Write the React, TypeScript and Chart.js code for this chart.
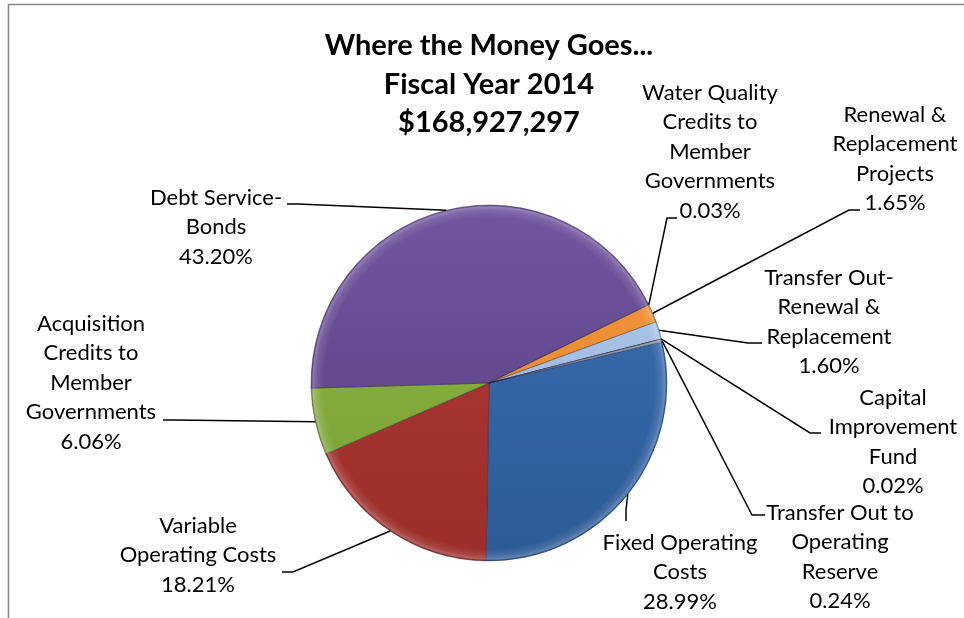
import React, { useEffect, useRef } from "react";
import { Chart, registerables } from "chart.js";

Chart.register(...registerables);

// ---------- data ----------
const categories = [
  "Fixed Operating Costs",
  "Variable Operating Costs",
  "Acquisition Credits to Member Governments",
  "Debt Service-Bonds",
  "Water Quality Credits to Member Governments",
  "Renewal & Replacement Projects",
  "Transfer Out-Renewal & Replacement",
  "Capital Improvement Fund",
  "Transfer Out to Operating Reserve",
];
const percentages = [28.99, 18.21, 6.06, 43.2, 0.03, 1.65, 1.6, 0.02, 0.24];
const labelLines = [
  ["Fixed Operating", "Costs"],
  ["Variable", "Operating Costs"],
  ["Acquisition", "Credits to", "Member", "Governments"],
  ["Debt Service-", "Bonds"],
  ["Water Quality", "Credits to", "Member", "Governments"],
  ["Renewal &", "Replacement", "Projects"],
  ["Transfer Out-", "Renewal &", "Replacement"],
  ["Capital", "Improvement", "Fund"],
  ["Transfer Out to", "Operating", "Reserve"],
];
const titleLines = ["Where the Money Goes...", "Fiscal Year 2014", "$168,927,297"];

// ---------- styles ----------
const sliceTop = ["#3b70b5", "#b33a37", "#8fb746", "#71559f", "#4bacc6", "#f79a40", "#b2cbee", "#d99694", "#a3afc0"];
const sliceBottom = ["#2c5a96", "#9b2d2a", "#789e34", "#583e80", "#3a8ea6", "#e27d22", "#92afd8", "#c0504d", "#8591a3"];

// label placement: center x, first baseline, leader stub [outer, inner]
const labelPlacement = [
  { cx: 680, y: 550, stub: [[626, 521], [626, 510]] },
  { cx: 198, y: 533, stub: [[282, 572], [293, 572]] },
  { cx: 91, y: 331, stub: [[163, 420], [174, 420]] },
  { cx: 216, y: 205, stub: [[287, 204], [298, 204]] },
  { cx: 710, y: 100, stub: [[677, 218], [667, 218]] },
  { cx: 895, y: 122, stub: [[860, 210], [849, 210]] },
  { cx: 829, y: 285, stub: [[762, 343], [748, 343]] },
  { cx: 893, y: 405, stub: [[821, 433], [810, 433]] },
  { cx: 840, y: 520, stub: [[765, 515], [752, 515]] },
];

const LABEL_FONT = "22px Lato, 'Open Sans', sans-serif";
const TITLE_FONT = "bold 29px Lato, 'Open Sans', sans-serif";
const LINE_H = 29.4;

const overlay = {
  id: "overlay",
  beforeDraw(chart: any) {
    const ctx = chart.ctx;
    ctx.save();
    ctx.fillStyle = "#ffffff";
    ctx.fillRect(0, 0, chart.width, chart.height);
    ctx.strokeStyle = "#878787";
    ctx.lineWidth = 1.5;
    ctx.beginPath();
    ctx.moveTo(8.5, chart.height);
    ctx.lineTo(8.5, 4.5);
    ctx.lineTo(chart.width, 4.5);
    ctx.stroke();
    ctx.restore();
  },
  afterDatasetsDraw(chart: any) {
    const ctx = chart.ctx;
    const meta = chart.getDatasetMeta(0);
    const a0 = meta.data[0] as any;
    const cx = a0.x, cy = a0.y, R = a0.outerRadius;

    // bevel rim
    ctx.save();
    ctx.beginPath();
    ctx.arc(cx, cy, R, 0, Math.PI * 2);
    ctx.clip();
    const g = ctx.createRadialGradient(cx, cy, R * 0.93, cx, cy, R);
    g.addColorStop(0, "rgba(255,255,255,0)");
    g.addColorStop(0.6, "rgba(255,255,255,0.12)");
    g.addColorStop(0.85, "rgba(255,255,255,0.26)");
    g.addColorStop(1, "rgba(0,0,0,0.06)");
    ctx.fillStyle = g;
    ctx.fillRect(cx - R, cy - R, 2 * R, 2 * R);
    ctx.restore();

    // leader lines
    ctx.save();
    ctx.strokeStyle = "#000000";
    ctx.lineWidth = 1.5;
    meta.data.forEach((arc: any, i: number) => {
      const p = labelPlacement[i];
      const mid = (arc.startAngle + arc.endAngle) / 2;
      const px = arc.x + Math.cos(mid) * arc.outerRadius;
      const py = arc.y + Math.sin(mid) * arc.outerRadius;
      ctx.beginPath();
      ctx.moveTo(p.stub[0][0], p.stub[0][1]);
      ctx.lineTo(p.stub[1][0], p.stub[1][1]);
      ctx.lineTo(px, py);
      ctx.stroke();
    });
    ctx.restore();

    // labels
    ctx.save();
    ctx.fillStyle = "#000000";
    ctx.textAlign = "center";
    ctx.textBaseline = "alphabetic";
    ctx.font = LABEL_FONT;
    labelLines.forEach((lines, i) => {
      const p = labelPlacement[i];
      const all = [...lines, percentages[i].toFixed(2) + "%"];
      all.forEach((t, k) => ctx.fillText(t, p.cx, p.y + k * LINE_H));
    });
    // title
    ctx.font = TITLE_FONT;
    const tb = [55, 93.5, 132];
    titleLines.forEach((t, k) => ctx.fillText(t, 489, tb[k]));
    ctx.restore();
  },
};

export default function App() {
  const ref = useRef<HTMLCanvasElement | null>(null);
  useEffect(() => {
    if (!ref.current) return;
    const chart = new Chart(ref.current, {
      type: "pie",
      data: {
        labels: categories,
        datasets: [
          {
            data: percentages,
            backgroundColor: (c: any) => {
              const chart = c.chart;
              const area = chart.chartArea;
              const i = c.dataIndex ?? 0;
              if (!area) return sliceTop[i];
              const gr = chart.ctx.createLinearGradient(0, area.top, 0, area.bottom);
              gr.addColorStop(0, sliceTop[i]);
              gr.addColorStop(1, sliceBottom[i]);
              return gr;
            },
            borderColor: "rgba(30,30,50,0.4)",
            borderWidth: 1,
          },
        ],
      },
      options: {
        responsive: false,
        animation: false,
        rotation: 76.6,
        radius: 178,
        layout: { padding: { left: 311, right: 297, top: 205, bottom: 57 } },
        plugins: {
          legend: { display: false },
          tooltip: { enabled: false },
          title: { display: false },
        },
      },
      plugins: [overlay],
    });
    return () => chart.destroy();
  }, []);
  return (
    <div style={{ position: "fixed", left: 0, top: 0, width: 964, height: 618, background: "#fff" }}>
      <canvas ref={ref} width={964} height={618} style={{ display: "block" }} />
    </div>
  );
}
